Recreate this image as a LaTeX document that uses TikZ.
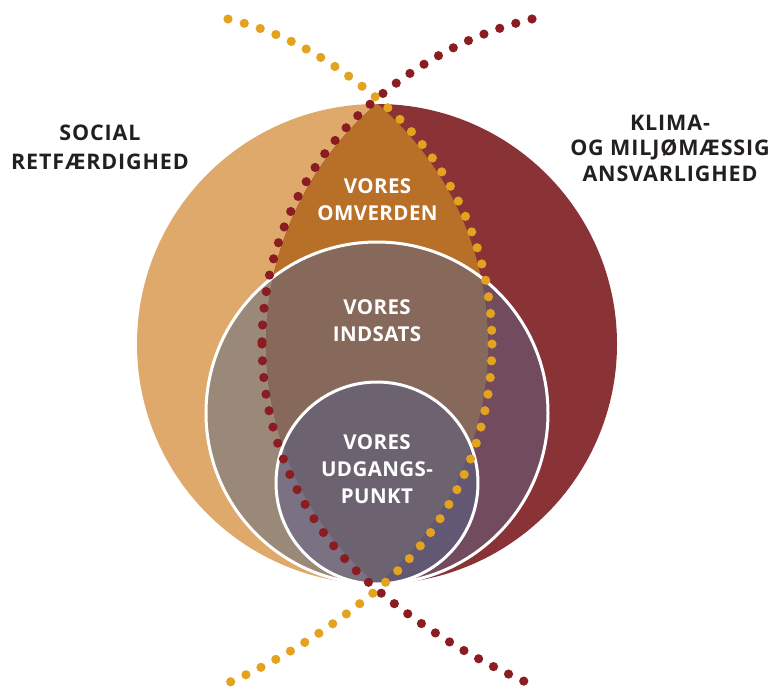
\documentclass[tikz,border=0pt]{standalone}
\usepackage{fontspec}
\setmainfont{Open Sans}
\definecolor{tanC}{HTML}{DFA96B}
\definecolor{redC}{HTML}{8A3337}
\definecolor{lensC}{HTML}{B86F27}
\definecolor{mTan}{HTML}{9A8879}
\definecolor{mLens}{HTML}{86695A}
\definecolor{mRed}{HTML}{724B5E}
\definecolor{sTan}{HTML}{7A7283}
\definecolor{sLens}{HTML}{6D6370}
\definecolor{sRed}{HTML}{635874}
\definecolor{dotY}{HTML}{E3A31E}
\definecolor{dotR}{HTML}{8B1D22}
\definecolor{txt}{HTML}{231F20}
\begin{document}
\begin{tikzpicture}[x=1pt,y=-1pt,
  dotline/.style={line width=9.2pt, line cap=round, dash pattern=on 0pt off 16.8pt},
  sidelbl/.style={text=txt, align=center, inner sep=0pt},
  inlbl/.style={text=white, align=center, inner sep=0pt, font=\fontsize{20.5}{27}\selectfont\bfseries\addfontfeature{LetterSpace=2}},
  ring/.style={draw=white, line width=3pt}]
\useasboundingbox (0,0) rectangle (774,686);
% outer shapes
\begin{scope}
  \clip (377,344) circle[radius=240pt];
  \fill[tanC] (172,344) circle[radius=316pt];
  \fill[redC] (582,344) circle[radius=316pt];
  \clip (172,344) circle[radius=316pt];
  \fill[lensC] (582,344) circle[radius=316pt];
\end{scope}
% medium circle
\begin{scope}
  \clip (377,413) circle[radius=171pt];
  \fill[mTan] (377,413) circle[radius=171pt];
  \clip (582,344) circle[radius=316pt];
  \fill[mRed] (377,413) circle[radius=171pt];
  \clip (172,344) circle[radius=316pt];
  \fill[mLens] (377,413) circle[radius=171pt];
\end{scope}
\path[ring] (377,413) circle[radius=171pt];
% small circle
\begin{scope}
  \clip (377,483) circle[radius=101pt];
  \fill[sTan] (377,483) circle[radius=101pt];
  \clip (582,344) circle[radius=316pt];
  \fill[sRed] (377,483) circle[radius=101pt];
  \clip (172,344) circle[radius=316pt];
  \fill[sLens] (377,483) circle[radius=101pt];
\end{scope}
\path[ring] (377,483) circle[radius=101pt];
% dotted curves
\draw[dotR, dotline] (532,19) .. controls (473.7,33) and (423.1,59.9) .. (377,98.3)
  arc[start angle=129.84, end angle=180, radius=320pt];
\draw[dotR, dotline] (262,344) arc[start angle=180, end angle=230.16, radius=320pt]
  .. controls (423.1,628.2) and (473.1,658.8) .. (528,683);
\draw[dotY, dotline] (228,19) .. controls (286.3,33) and (330.9,59.9) .. (377,98.3)
  arc[start angle=50.16, end angle=0, radius=320pt];
\draw[dotY, dotline] (492,344) arc[start angle=0, end angle=-50.16, radius=320pt]
  .. controls (330.9,628.2) and (282.9,658.8) .. (228,683);
% labels
\node[sidelbl, font=\fontsize{21.5}{29}\selectfont\bfseries\addfontfeature{LetterSpace=4}] (social) at (100,147.5) {SOCIAL\\RETFÆRDIGHED};
\node[sidelbl, font=\fontsize{21.5}{25.5}\selectfont\bfseries\addfontfeature{LetterSpace=4}] (klima) at (670,148) {KLIMA-\\OG MILJØMÆSSIG\\ANSVARLIGHED};
\node[inlbl] (omverden) at (377.5,200) {VORES\\OMVERDEN};
\node[inlbl] (indsats) at (377,321) {VORES\\INDSATS};
\node[inlbl] (udgang) at (377,469) {VORES\\UDGANGS-\\PUNKT};
\end{tikzpicture}
\end{document}
